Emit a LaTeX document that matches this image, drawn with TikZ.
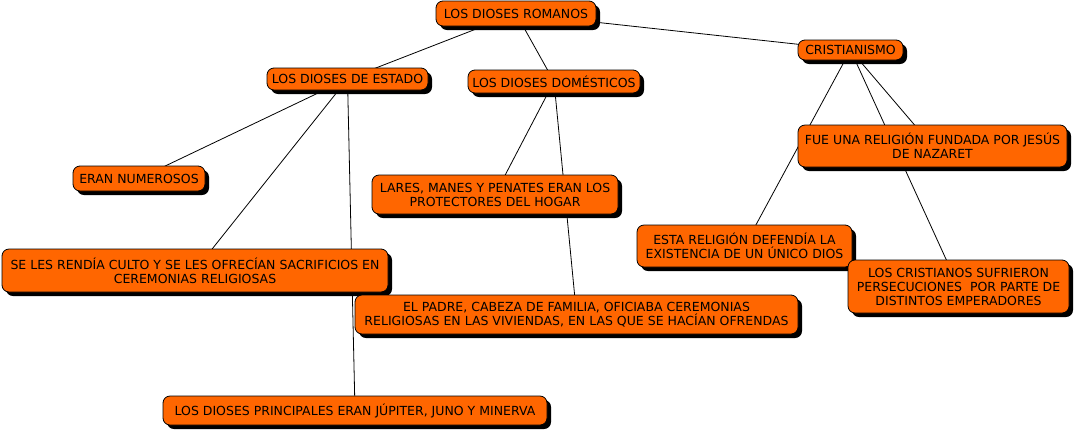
\documentclass[tikz,border=0pt]{standalone}
\usepackage{fontspec}
\setmainfont{DejaVu Sans}
\usetikzlibrary{shadows,backgrounds}
\definecolor{boxorange}{HTML}{FF6600}
\tikzset{
  concept/.style={draw=black, line width=0.8pt, fill=boxorange, rounded corners=7pt,
    inner sep=0pt, align=center, text=black,
    font=\fontsize{12.5}{14}\selectfont,
    drop shadow={shadow xshift=4pt, shadow yshift=-4pt, fill=black, opacity=1}},
  link/.style={draw=black, line width=0.8pt}
}
\begin{document}
\begin{tikzpicture}[x=1pt,y=-1pt]
\useasboundingbox (0,0) rectangle (1076,432);
\node[concept, minimum width=160pt, minimum height=25pt] (rom) at (516,13.5) {LOS DIOSES ROMANOS};
\node[concept, minimum width=161pt, minimum height=22pt] (est) at (347.5,79) {LOS DIOSES DE ESTADO};
\node[concept, minimum width=172pt, minimum height=23pt] (dom) at (554,81.5) {LOS DIOSES DOMÉSTICOS};
\node[concept, minimum width=105pt, minimum height=20pt] (cri) at (850.5,50) {CRISTIANISMO};
\node[concept, minimum width=132pt, minimum height=25pt] (num) at (139,178.5) {ERAN NUMEROSOS};
\node[concept, minimum width=386pt, minimum height=43pt] (cul) at (195,270.5) {SE LES RENDÍA CULTO Y SE LES OFRECÍAN SACRIFICIOS EN\\CEREMONIAS RELIGIOSAS};
\node[concept, minimum width=246pt, minimum height=39pt] (lar) at (495,194.5) {LARES, MANES Y PENATES ERAN LOS\\PROTECTORES DEL HOGAR};
\node[concept, minimum width=443pt, minimum height=39pt] (pad) at (576.5,314.5) {EL PADRE, CABEZA DE FAMILIA, OFICIABA CEREMONIAS\\RELIGIOSAS EN LAS VIVIENDAS, EN LAS QUE SE HACÍAN OFRENDAS};
\node[concept, minimum width=215pt, minimum height=42pt] (uni) at (744.5,246) {ESTA RELIGIÓN DEFENDÍA LA\\EXISTENCIA DE UN ÚNICO DIOS};
\node[concept, minimum width=269pt, minimum height=42pt] (fue) at (932.5,146) {FUE UNA RELIGIÓN FUNDADA POR JESÚS\\DE NAZARET};
\node[concept, minimum width=221pt, minimum height=53pt] (per) at (958.5,286.5) {LOS CRISTIANOS SUFRIERON\\PERSECUCIONES\ \ POR PARTE DE\\DISTINTOS EMPERADORES};
\node[concept, minimum width=384pt, minimum height=29pt] (pri) at (355,410.5) {LOS DIOSES PRINCIPALES ERAN JÚPITER, JUNO Y MINERVA};
\begin{pgfonlayer}{background}
\draw[link] (rom.center) -- (est.center);
\draw[link] (rom.center) -- (dom.center);
\draw[link] (rom.center) -- (cri.center);
\draw[link] (est.center) -- (num.center);
\draw[link] (est.center) -- (cul.center);
\draw[link] (est.center) -- (pri.center);
\draw[link] (dom.center) -- (lar.center);
\draw[link] (dom.center) -- (pad.center);
\draw[link] (cri.center) -- (fue.center);
\draw[link] (cri.center) -- (uni.center);
\draw[link] (cri.center) -- (per.center);
\end{pgfonlayer}
\end{tikzpicture}
\end{document}
